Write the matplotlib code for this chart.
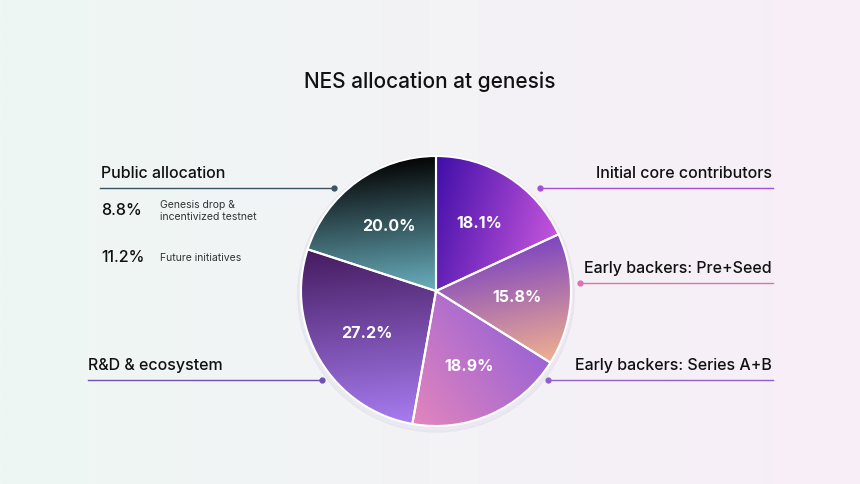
import numpy as np
import matplotlib
matplotlib.use("Agg")
import matplotlib.pyplot as plt

plt.rcParams['font.family'] = ['Inter', 'DejaVu Sans']

title = "NES allocation at genesis"
slices = ["Initial core contributors", "Early backers: Pre+Seed", "Early backers: Series A+B",
          "R&D & ecosystem", "Public allocation"]
values = [18.1, 15.8, 18.9, 27.2, 20.0]
sub_values = [8.8, 11.2]
sub_labels = ["Genesis drop &\nincentivized testnet", "Future initiatives"]
# gradient (start color, end color, direction vector)
grads = [("#3f0ea8", "#c455dc", (1, -0.3)),
         ("#7e45c0", "#f0b090", (0.2, -1)),
         ("#9c64d4", "#e285bd", (-0.8, -0.6)),
         ("#451b60", "#a77cf0", (0.1, -1)),
         ("#050505", "#6ab0bf", (0.1, -1))]

W, H = 860, 485
fig = plt.figure(figsize=(W/100, H/100), dpi=100)
bg = fig.add_axes([0, 0, 1, 1])
x = np.linspace(0, 1, 256)
c1 = np.array(matplotlib.colors.to_rgb("#eef7f3")); c2 = np.array(matplotlib.colors.to_rgb("#f8eef8"))
grad = c1[None, :] * (1 - x[:, None]) + c2[None, :] * x[:, None]
bg.imshow(grad[None, :, :], extent=[0, W, H, 0], aspect='auto', interpolation='bilinear')
bg.set_xlim(0, W); bg.set_ylim(H, 0); bg.axis('off')

bg.text(W/2, 82, title, ha='center', va='center', fontsize=15, fontweight='medium', color='#111')

def hline(x0, x1, y, dot, col):
    bg.plot([x0, x1], [y, y], color=col, lw=1)
    bg.plot([dot], [y], 'o', color=col, ms=3.5)

hline(100, 334, 189, 334, '#3a5560')
hline(540, 773, 189, 540, '#a050d0')
hline(580, 773, 284, 580, '#e070b0')
hline(548, 773, 381, 548, '#9060c8')
hline(88, 322, 381, 322, '#7050b0')

fs = 11.5
kw = dict(fontsize=fs, va='center', color='#111', fontweight='medium')
bg.text(101, 174, slices[4], **kw)
bg.text(772, 174, slices[0], ha='right', **kw)
bg.text(772, 269, slices[1], ha='right', **kw)
bg.text(772, 366, slices[2], ha='right', **kw)
bg.text(88, 366, slices[3], **kw)
for v, lab, y in zip(sub_values, sub_labels, [211, 258]):
    bg.text(101, y, f"{v}%", fontsize=11.5, va='center', color='#111', fontweight='medium')
    bg.text(160, y, lab, fontsize=7.5, va='center', color='#333', linespacing=1.3)

cx, cy, r = 436, 292, 135
pax = fig.add_axes([(cx - r*1.1)/W, (H - cy - r*1.1)/H, 2.2*r/W, 2.2*r/H])
pax.add_patch(plt.Circle((0.0, -0.02), 1.025, color='#dcd8e8', alpha=0.35, zorder=0))
wedges, texts, autotexts = pax.pie(values, startangle=90, counterclock=False,
                                   autopct='%1.1f%%', pctdistance=0.6,
                                   wedgeprops=dict(edgecolor='white', linewidth=1.5),
                                   textprops=dict(color='white', fontsize=11.5, fontweight='bold'))
yy, xx = np.mgrid[1:-1:300j, -1:1:300j]
ang = np.degrees(np.arctan2(yy, xx)) % 360
rad = np.hypot(xx, yy)
for w, (a, b, d) in zip(wedges, grads):
    d = np.array(d) / np.hypot(*d)
    t = xx * d[0] + yy * d[1]
    t1, t2 = w.theta1 % 360, w.theta2 % 360
    if t1 <= t2:
        m = (ang >= t1) & (ang <= t2)
    else:
        m = (ang >= t1) | (ang <= t2)
    m &= rad <= 1
    lo, hi = t[m].min(), t[m].max()
    t = np.clip((t - lo) / (hi - lo), 0, 1)
    ca = np.array(matplotlib.colors.to_rgb(a)); cb = np.array(matplotlib.colors.to_rgb(b))
    img = ca * (1 - t[..., None]) + cb * t[..., None]
    im = pax.imshow(img, extent=[-1, 1, -1, 1], zorder=1)
    im.set_clip_path(w)
    w.set_facecolor('none'); w.set_zorder(2)
for t in autotexts:
    t.set_zorder(3)
pax.set_xlim(-1.1, 1.1); pax.set_ylim(-1.1, 1.1)
pax.set_aspect('equal')
pax.axis('off')

fig.savefig("out.png", dpi=100)
